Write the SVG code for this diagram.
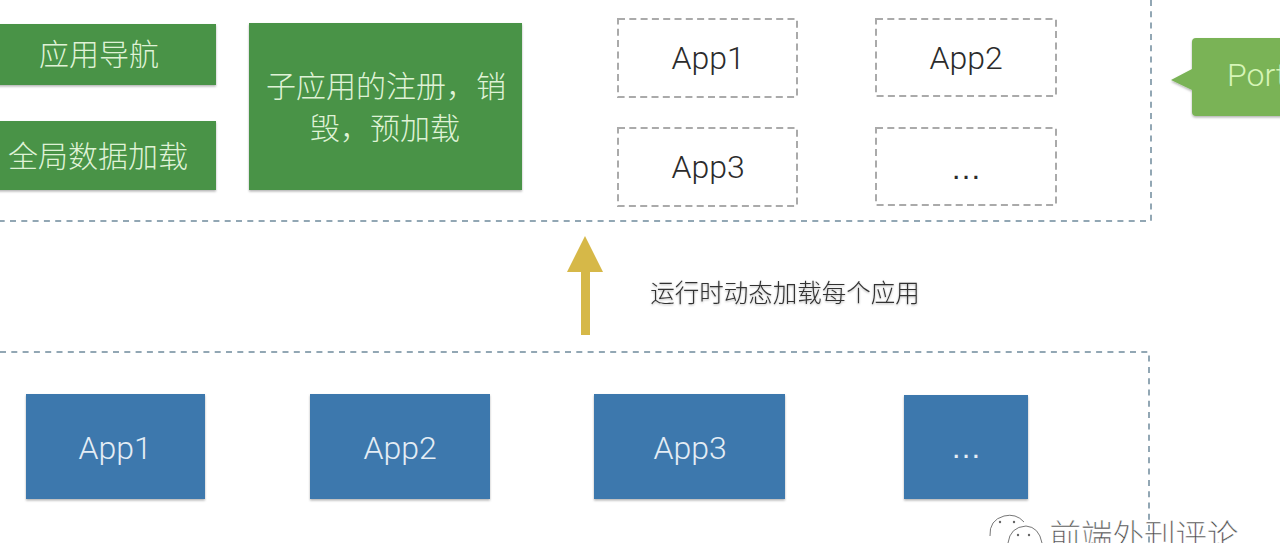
<svg xmlns="http://www.w3.org/2000/svg" width="1280" height="543" viewBox="0 0 1280 543">
<style>
text{font-family:Roboto,"Noto Sans CJK SC",sans-serif;font-weight:300;text-anchor:middle}
.g{fill:#4a9347}.b{fill:#3d78ad}
.w{fill:#dff2d6;font-size:30px}
.wb{fill:#e4edf5;font-size:32px}
.k{fill:#2b2b2b;font-size:32px}
.e{font-family:"Liberation Sans",sans-serif;font-weight:400;font-size:31px}
.d{fill:none;stroke:#aaa;stroke-width:2;stroke-dasharray:7 4.3}
.c{fill:none;stroke:#6f8a9c;stroke-width:1.5;stroke-dasharray:6 5.3}
.i{fill:none;stroke:#777;stroke-width:1}
</style>
<defs><filter id="s" x="-5%" y="-5%" width="110%" height="115%"><feDropShadow dx="0" dy="1.5" stdDeviation="1.2" flood-color="#000" flood-opacity=".3"/></filter>
<filter id="t" x="-5%" y="-20%" width="110%" height="150%"><feDropShadow dx="0" dy="1" stdDeviation=".8" flood-color="#000" flood-opacity=".3"/></filter></defs>
<rect width="1280" height="543" fill="#fff"/>
<g id="containers">
<path class="c" d="M1151 0V221H0"/>
<path class="c" d="M0 352H1149V543"/>
</g>
<g id="nav"><rect class="g" x="-10" y="24" width="226" height="61" filter="url(#s)"/><text class="w" x="99" y="65">应用导航</text></g>
<g id="data"><rect class="g" x="-10" y="121" width="226" height="69" filter="url(#s)"/><text class="w" x="98" y="167">全局数据加载</text></g>
<g id="register"><rect class="g" x="249" y="23" width="273" height="167" filter="url(#s)"/><text class="w" x="386" y="97">子应用的注册，销</text><text class="w" x="385" y="139">毁，预加载</text></g>
<g id="slot1"><rect class="d" x="618" y="19" width="179" height="78"/><text class="k" x="708" y="69">App1</text></g>
<g id="slot2"><rect class="d" x="876" y="19" width="180" height="77"/><text class="k" x="966" y="69">App2</text></g>
<g id="slot3"><rect class="d" x="618" y="128" width="179" height="78"/><text class="k" x="708" y="178">App3</text></g>
<g id="slot4"><rect class="d" x="876" y="128" width="180" height="77"/><text class="k e" x="966" y="179">…</text></g>
<g id="portal"><path d="M1196 38H1290V116H1196Q1192 116 1192 112V90L1171 80L1192 69V42Q1192 38 1196 38Z" fill="#7ab356" filter="url(#s)"/><text x="1227" y="86" style="text-anchor:start;font-size:32px;fill:#d6f5b8">Portal</text></g>
<g id="connectors"><path d="M581 335V272H567L585 236L603 272H590V335Z" fill="#d6b848"/></g>
<g id="label"><text x="785" y="302" filter="url(#t)" style="font-size:24.5px;fill:#333">运行时动态加载每个应用</text></g>
<g id="app1"><rect class="b" x="26" y="394" width="179" height="105" filter="url(#s)"/><text class="wb" x="115" y="459">App1</text></g>
<g id="app2"><rect class="b" x="310" y="394" width="180" height="105" filter="url(#s)"/><text class="wb" x="400" y="459">App2</text></g>
<g id="app3"><rect class="b" x="594" y="394" width="191" height="105" filter="url(#s)"/><text class="wb" x="690" y="459">App3</text></g>
<g id="app4"><rect class="b" x="904" y="395" width="124" height="104" filter="url(#s)"/><text class="wb e" x="966" y="458">…</text></g>
<g id="watermark"><path class="i" d="M990 536Q989 520 1004 516Q1016 513 1024 522M1008 543Q1010 527 1026 526Q1039 527 1042 543"/><g fill="#666"><circle cx="1000" cy="522" r="1.2"/><circle cx="1014" cy="522" r="1.2"/><circle cx="1018" cy="535" r="1.2"/><circle cx="1029" cy="535" r="1.2"/></g><text x="1144" y="547" style="font-family:'Noto Sans CJK SC',sans-serif;font-size:31.5px;fill:#444;stroke:#fff;stroke-width:.4">前端外刊评论</text></g>
</svg>
